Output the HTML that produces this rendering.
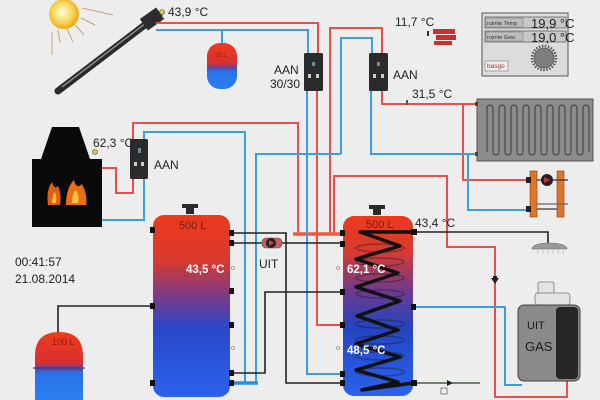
<!DOCTYPE html>
<html><head><meta charset="utf-8"><style>
html,body{margin:0;padding:0;background:#ededed;}
svg{display:block;}
text{font-family:"Liberation Sans",sans-serif;}
</style></head><body>
<svg width="600" height="400" viewBox="0 0 600 400" xmlns="http://www.w3.org/2000/svg">
<defs>
<linearGradient id="tankL" x1="0" y1="0" x2="0" y2="1">
<stop offset="0" stop-color="#ec3a1c"/><stop offset="0.25" stop-color="#d83a2e"/><stop offset="0.45" stop-color="#7a3a8a"/><stop offset="0.62" stop-color="#2a48c8"/><stop offset="1" stop-color="#2a62ee"/>
</linearGradient>
<linearGradient id="tankR" x1="0" y1="0" x2="0" y2="1">
<stop offset="0" stop-color="#ec3a1c"/><stop offset="0.2" stop-color="#d83a30"/><stop offset="0.42" stop-color="#6c3a90"/><stop offset="0.62" stop-color="#2444c0"/><stop offset="1" stop-color="#2a62ee"/>
</linearGradient>
<linearGradient id="vessel" x1="0" y1="0" x2="0" y2="1">
<stop offset="0" stop-color="#f03a1c"/><stop offset="0.45" stop-color="#d83030"/><stop offset="0.55" stop-color="#5048b0"/><stop offset="0.6" stop-color="#2a70e8"/><stop offset="1" stop-color="#2a80f0"/>
</linearGradient>
<radialGradient id="sun" cx="0.45" cy="0.45" r="0.55">
<stop offset="0" stop-color="#fffbe0"/><stop offset="0.5" stop-color="#f8e070"/><stop offset="1" stop-color="#eeaa10"/>
</radialGradient>
</defs>

<!-- sun -->
<g stroke="#c9a27a" stroke-width="1">
<line x1="52" y1="32" x2="52" y2="55"/><line x1="58" y1="30" x2="60" y2="43"/>
<line x1="67" y1="29" x2="73" y2="42"/><line x1="75" y1="25" x2="84" y2="35"/>
<line x1="81" y1="18" x2="95" y2="25"/><line x1="82" y1="8" x2="113" y2="15"/>
</g>
<circle cx="64" cy="14" r="15" fill="url(#sun)"/>

<!-- collector -->
<line x1="58" y1="91" x2="150" y2="21" stroke="#2a2a2a" stroke-width="7" stroke-linecap="round"/>
<line x1="62" y1="87" x2="146" y2="23" stroke="#8a8a8a" stroke-width="1.5"/>
<rect x="142" y="12" width="20" height="14" fill="#2c2c2c" transform="rotate(-35 152 19)"/>
<line x1="162" y1="14" x2="162" y2="20" stroke="#555" stroke-width="1"/>
<circle cx="162" cy="12" r="2.5" fill="#e8c040" stroke="#555" stroke-width="0.6"/>
<text x="168" y="16" font-size="12" fill="#222">43,9 °C</text>

<!-- pipes red -->
<g fill="none" stroke="#e65048" stroke-width="2">
<path d="M156,23 H318 V53"/>
<path d="M317,91 V325 H343"/>
<path d="M330,234 V28 H382 V53"/>
<path d="M382,91 V104 H477"/>
<path d="M463,104 V180 H530"/>
<path d="M102,168 H116 V193 H133 V179"/>
<path d="M133,139 V123 H298 V234"/>
<path d="M334,234 V176 H447 V247 H495 V397 H567 V380"/>
</g>
<line x1="293" y1="234" x2="342" y2="234" stroke="#f05a3a" stroke-width="3.5"/>

<!-- pipes blue -->
<g fill="none" stroke="#3a9ee2" stroke-width="2">
<path d="M156,30 H308 V53"/>
<path d="M222,30 V44"/>
<path d="M307,91 V374 H343"/>
<path d="M341,154 V38 H372 V53"/>
<path d="M341,154 H256 V383"/>
<path d="M371,91 V154 H477"/>
<path d="M468,154 V210 H530"/>
<path d="M102,220 H144 V179"/>
<path d="M144,139 V132 H245 V383"/>
<path d="M413,307 H505 V385 H522"/>
</g>
<line x1="230" y1="383" x2="258" y2="383" stroke="#2a90e0" stroke-width="3.5"/>

<!-- pipes black -->
<g fill="none" stroke="#222" stroke-width="1.6">
<path d="M230,233 H286 V383 H343"/>
<path d="M230,243 H343"/>
<path d="M230,373 H265 V292 H343"/>
<path d="M413,232 H548 V243"/>
<path d="M58,334 V306 H153"/>
</g>
<line x1="413" y1="383" x2="480" y2="383" stroke="#4a5a48" stroke-width="1.6"/>

<!-- expansion vessel 25L -->
<rect x="207" y="43" width="30" height="46" rx="13" fill="url(#vessel)"/>
<text x="215" y="57" font-size="6" fill="#8a1a10">25 L</text>

<!-- AAN pump groups -->
<g fill="#2b2b2b">
<rect x="304" y="53" width="19" height="38" rx="1.5"/>
<rect x="369" y="53" width="19" height="38" rx="1.5"/>
<rect x="130" y="139" width="18" height="40" rx="1.5"/>
</g>
<g fill="#6a8aa0">
<rect x="312" y="62" width="3" height="4"/><rect x="377" y="62" width="3" height="4"/><rect x="138" y="148" width="3" height="5"/>
</g>
<g fill="#ccc">
<rect x="308" y="74" width="3" height="4"/><rect x="316" y="74" width="3" height="4"/>
<rect x="373" y="74" width="3" height="4"/><rect x="381" y="74" width="3" height="4"/>
<rect x="134" y="162" width="3" height="4"/><rect x="141" y="162" width="3" height="4"/>
</g>
<text x="274" y="74" font-size="12" fill="#222">AAN</text>
<text x="270" y="88" font-size="12" fill="#222">30/30</text>
<text x="393" y="79" font-size="12" fill="#222">AAN</text>
<text x="154" y="169" font-size="12" fill="#222">AAN</text>

<!-- 11,7 bricks -->
<text x="395" y="26" font-size="12" fill="#222">11,7 °C</text>
<g fill="#c83030">
<rect x="433" y="29" width="22" height="5"/><rect x="436" y="35" width="20" height="5"/><rect x="434" y="41" width="18" height="4"/>
</g>
<rect x="427" y="31" width="2" height="5" fill="#333"/>
<text x="412" y="98" font-size="12" fill="#222">31,5 °C</text>
<rect x="406" y="100" width="2" height="5" fill="#555"/>

<!-- thermostat -->
<rect x="482" y="13" width="86" height="63" fill="#dcdcdc" stroke="#555" stroke-width="1"/>
<rect x="485" y="17" width="81" height="11" fill="#c8c8c8" stroke="#666" stroke-width="0.8"/>
<rect x="485" y="31" width="81" height="11" fill="#c8c8c8" stroke="#666" stroke-width="0.8"/>
<rect x="486" y="18" width="37" height="9" fill="#bcbcbc" stroke="#777" stroke-width="0.5"/>
<rect x="486" y="32" width="37" height="9" fill="#bcbcbc" stroke="#777" stroke-width="0.5"/>
<text x="487" y="25" font-size="5.5" fill="#333">ruimte Temp</text>
<text x="487" y="39" font-size="5.5" fill="#333">ruimte Gew.</text>
<text x="531" y="28" font-size="13" fill="#222">19,9 °C</text>
<text x="531" y="42" font-size="13" fill="#222">19,0 °C</text>
<circle cx="544" cy="58" r="12" fill="none" stroke="#555" stroke-width="2.5" stroke-dasharray="1.5 1.5"/>
<circle cx="544" cy="58" r="10" fill="#7e7e7e" stroke="#555" stroke-width="0.8"/>
<rect x="485" y="61" width="23" height="10" fill="#eee" stroke="#777" stroke-width="0.6"/>
<text x="487" y="68" font-size="6.5" fill="#a03030">basgo</text>

<!-- radiator -->
<rect x="477" y="99" width="116" height="62" fill="#8c8c8c" stroke="#555" stroke-width="1"/>
<path d="M487,152 V108 a3,3 0 0 1 6,0 V152 a3,3 0 0 0 6,0 V108 a3,3 0 0 1 6,0 V152 a3,3 0 0 0 6,0 V108 a3,3 0 0 1 6,0 V152 a3,3 0 0 0 6,0 V108 a3,3 0 0 1 6,0 V152 a3,3 0 0 0 6,0 V108 a3,3 0 0 1 6,0 V152 a3,3 0 0 0 6,0 V108 a3,3 0 0 1 6,0 V152 a3,3 0 0 0 6,0 V108 a3,3 0 0 1 6,0 V152 a3,3 0 0 0 6,0 V108 a3,3 0 0 1 6,0 V152 a3,3 0 0 0 6,0 V108 a3,3 0 0 1 6,0 V152" fill="none" stroke="#3a3a3a" stroke-width="1"/>
<rect x="475" y="102" width="3" height="4" fill="#444"/><rect x="475" y="152" width="3" height="4" fill="#444"/>

<!-- pump unit orange -->
<rect x="530" y="171" width="7" height="46" fill="#e07428" stroke="#8a4010" stroke-width="0.6"/>
<rect x="557" y="171" width="7" height="46" fill="#e07428" stroke="#8a4010" stroke-width="0.6"/>
<line x1="537" y1="180" x2="568" y2="180" stroke="#333" stroke-width="1.2"/>
<line x1="537" y1="204" x2="568" y2="204" stroke="#666" stroke-width="1.2"/>
<line x1="537" y1="209" x2="557" y2="209" stroke="#555" stroke-width="1.5"/>
<circle cx="547" cy="180" r="6" fill="#222"/>
<path d="M544,177 L550,180 L544,183 Z" fill="#d03030"/>
<rect x="526" y="177" width="5" height="6" fill="#222"/><rect x="526" y="206" width="5" height="6" fill="#222"/>

<!-- shower -->
<path d="M532,249 Q533,243 549,243 Q566,243 567,249 Z" fill="#9a9a9a" stroke="#666" stroke-width="0.6"/>
<g stroke="#c0a0a0" stroke-width="0.6"><line x1="538" y1="250" x2="538" y2="254"/><line x1="543" y1="250" x2="543" y2="254"/><line x1="548" y1="250" x2="548" y2="254"/><line x1="553" y1="250" x2="553" y2="254"/><line x1="558" y1="250" x2="558" y2="254"/><line x1="563" y1="250" x2="563" y2="254"/></g>

<!-- gas boiler -->
<rect x="538" y="282" width="16" height="12" rx="2" fill="#e4e4e4" stroke="#777" stroke-width="0.8"/>
<rect x="535" y="293" width="35" height="12" rx="3" fill="#e4e4e4" stroke="#777" stroke-width="0.8"/>
<rect x="518" y="305" width="62" height="76" rx="6" fill="#8a8a8a" stroke="#444" stroke-width="1"/>
<rect x="556" y="307" width="22" height="72" rx="4" fill="#262626"/>
<text x="527" y="329" font-size="11" fill="#1a1a1a">UIT</text>
<text x="525" y="351" font-size="13" fill="#1a1a1a">GAS</text>
<path d="M491,278 h8 l-4,6 z" fill="#222"/><rect x="493" y="276" width="4" height="3" fill="#222"/>
<path d="M447,380 l6,3 l-6,3 z" fill="#222"/><rect x="441" y="388" width="6" height="6" fill="none" stroke="#666" stroke-width="0.8"/>

<!-- fireplace -->
<path d="M52,127 H79 L90,159 H102 V227 H32 V159 H41 Z" fill="#0a0a0a"/>
<path d="M48,205 Q46,190 52,182 Q54,190 58,186 Q62,195 60,205 Z" fill="#e06010"/>
<path d="M66,205 Q66,188 74,180 Q76,190 82,184 Q88,196 86,205 Z" fill="#e87010"/>
<path d="M52,203 Q52,195 55,192 Q57,198 56,203 Z" fill="#f8c040"/>
<path d="M72,203 Q72,193 76,190 Q80,198 78,203 Z" fill="#f8c040"/>
<circle cx="95" cy="152" r="2.5" fill="#e8c040" stroke="#555" stroke-width="0.6"/>
<text x="93" y="147" font-size="12" fill="#222">62,3 °C</text>

<!-- left tank -->
<path d="M186,214 h8 v-6 h4 v-4 h-16 v4 h4 z" fill="#2a2a2a"/>
<rect x="153" y="215" width="77" height="182" rx="11" fill="url(#tankL)"/>
<text x="179" y="229" font-size="11" fill="#7a1a10">500 L</text>
<text x="186" y="273" font-size="11.5" font-weight="bold" fill="#fff">43,5 °C</text>
<g fill="#111">
<rect x="150" y="227" width="5" height="6"/><rect x="150" y="303" width="5" height="6"/><rect x="150" y="380" width="5" height="6"/>
<rect x="229" y="230" width="5" height="6"/><rect x="229" y="240" width="5" height="6"/><rect x="229" y="288" width="5" height="6"/>
<rect x="229" y="322" width="5" height="6"/><rect x="229" y="370" width="5" height="6"/><rect x="229" y="380" width="5" height="6"/>
</g>
<circle cx="233" cy="268" r="1.5" fill="none" stroke="#a06060" stroke-width="0.6"/>
<circle cx="233" cy="348" r="1.5" fill="none" stroke="#a06060" stroke-width="0.6"/>

<!-- UIT pump -->
<rect x="262" y="238" width="20" height="10" rx="4" fill="#c06060" stroke="#555" stroke-width="0.6"/>
<circle cx="271" cy="243" r="5" fill="#222"/>
<path d="M269,240 L274,243 L269,246 Z" fill="#e04040"/>
<text x="259" y="268" font-size="12" fill="#222">UIT</text>

<!-- right tank -->
<path d="M373,215 h8 v-6 h4 v-4 h-16 v4 h4 z" fill="#2a2a2a"/>
<rect x="343" y="216" width="70" height="180" rx="11" fill="url(#tankR)"/>
<g fill="none" stroke="rgba(20,20,30,0.35)" stroke-width="1.5">
<ellipse cx="380" cy="248" rx="24" ry="4"/><ellipse cx="380" cy="262" rx="24" ry="4"/>
<ellipse cx="380" cy="278" rx="24" ry="4"/><ellipse cx="380" cy="294" rx="24" ry="4"/>
<ellipse cx="380" cy="324" rx="24" ry="4"/><ellipse cx="380" cy="340" rx="24" ry="4"/>
<ellipse cx="380" cy="356" rx="24" ry="4"/><ellipse cx="380" cy="372" rx="24" ry="4"/>
</g>
<text x="366" y="228" font-size="11" fill="#7a1a10">500 L</text>
<polyline points="413,232 360,232 400,246 356,259 398,273 356,287 400,301 357,316 398,330 356,344 400,357 356,370 398,382 362,390 413,383" fill="none" stroke="#111" stroke-width="3.5" stroke-linejoin="round"/>
<text x="347" y="273" font-size="11.5" font-weight="bold" fill="#fff">62,1 °C</text>
<text x="347" y="354" font-size="11.5" font-weight="bold" fill="#fff">48,5 °C</text>
<g fill="#111">
<rect x="340" y="230" width="5" height="6"/><rect x="340" y="241" width="5" height="6"/><rect x="340" y="289" width="5" height="6"/>
<rect x="340" y="322" width="5" height="6"/><rect x="340" y="371" width="5" height="6"/><rect x="340" y="380" width="5" height="6"/>
<rect x="411" y="229" width="6" height="6"/><rect x="411" y="304" width="5" height="6"/><rect x="411" y="380" width="6" height="6"/>
</g>
<circle cx="338" cy="268" r="1.5" fill="none" stroke="#a06060" stroke-width="0.6"/>
<circle cx="338" cy="348" r="1.5" fill="none" stroke="#a06060" stroke-width="0.6"/>
<text x="415" y="227" font-size="12" fill="#222">43,4 °C</text>

<!-- 100L vessel -->
<path d="M35,400 V356 Q35,332 59,332 Q83,332 83,356 V400 Z" fill="url(#vessel)"/>
<line x1="33" y1="368" x2="85" y2="368" stroke="#3a3a7a" stroke-width="1.2"/>
<text x="52" y="345" font-size="9" fill="#8a1a10">100 L</text>

<!-- time -->
<text x="15" y="266" font-size="12" fill="#222">00:41:57</text>
<text x="15" y="283" font-size="12" fill="#222">21.08.2014</text>
</svg>
</body></html>
